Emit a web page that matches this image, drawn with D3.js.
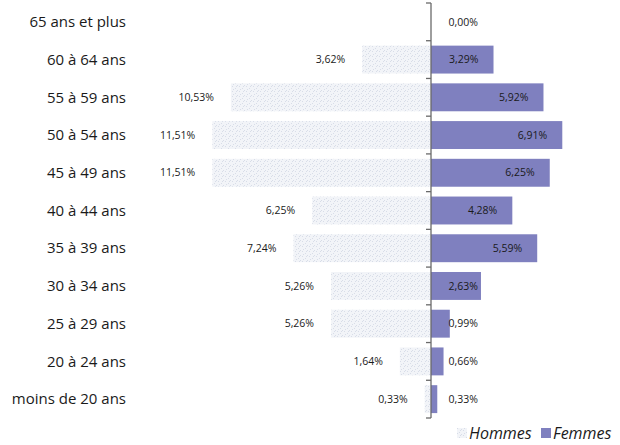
<!DOCTYPE html>
<html>
<head>
<meta charset="utf-8">
<script src="https://cdn.jsdelivr.net/npm/d3@7"></script>
<style>
  body { margin: 0; background: #fff; }
  svg { display: block; font-family: "Open Sans", sans-serif; }
</style>
</head>
<body>
<div id="chart"></div>
<script>
// tranches d'âge, du haut vers le bas
const categories = ["65 ans et plus", "60 à 64 ans", "55 à 59 ans", "50 à 54 ans", "45 à 49 ans",
    "40 à 44 ans", "35 à 39 ans", "30 à 34 ans", "25 à 29 ans", "20 à 24 ans", "moins de 20 ans"];
const hommes = [0, 3.62, 10.53, 11.51, 11.51, 6.25, 7.24, 5.26, 5.26, 1.64, 0.33];
const femmes = [0, 3.29, 5.92, 6.91, 6.25, 4.28, 5.59, 2.63, 0.99, 0.66, 0.33];
const seriesNames = ["Hommes", "Femmes"];

const width = 620, height = 445;
const fmt = v => v.toFixed(2).replace(".", ",") + "%";

const svg = d3.select("#chart").append("svg")
    .attr("width", width)
    .attr("height", height);

// texture claire pour les hommes
const defs = svg.append("defs");
const pat = defs.append("pattern")
    .attr("id", "stipple")
    .attr("patternUnits", "userSpaceOnUse")
    .attr("width", 7).attr("height", 5);
pat.append("rect").attr("width", 7).attr("height", 5).attr("fill", "#f2f4f8");
[[1, 1], [4, 3], [6, 0], [2, 4], [5, 1]].forEach(p => {
    pat.append("rect").attr("x", p[0]).attr("y", p[1])
        .attr("width", 1).attr("height", 1).attr("fill", "#d8dde8");
});

const x0 = 431;          // position de l'axe central
const pxPerPct = 19;

const xR = d3.scaleLinear().domain([0, 10]).range([x0, x0 + 10 * pxPerPct]);
const xL = d3.scaleLinear().domain([0, 10]).range([x0, x0 - 10 * pxPerPct]);

const y = d3.scaleBand()
    .domain(categories)
    .range([3, 418])
    .paddingInner(0.26)
    .paddingOuter(0.13);

const femColor = "#7f80bf";

// barres hommes
svg.selectAll("rect.hommes")
    .data(categories)
    .enter()
    .append("rect")
    .attr("class", "hommes")
    .attr("x", (d, i) => xL(hommes[i]))
    .attr("y", d => y(d))
    .attr("width", (d, i) => x0 - xL(hommes[i]))
    .attr("height", y.bandwidth())
    .attr("fill", "url(#stipple)");

// barres femmes
svg.selectAll("rect.femmes")
    .data(categories)
    .enter()
    .append("rect")
    .attr("class", "femmes")
    .attr("x", x0)
    .attr("y", d => y(d))
    .attr("width", (d, i) => xR(femmes[i]) - x0)
    .attr("height", y.bandwidth())
    .attr("fill", femColor);

// axe vertical + graduations aux limites des bandes
const step = y.step();
const bounds = categories.map(d => y(d) - step * y.paddingInner() / 2);
bounds.push(y(categories[categories.length - 1]) + y.bandwidth() + step * y.paddingInner() / 2);

svg.append("line")
    .attr("x1", x0).attr("x2", x0)
    .attr("y1", bounds[0]).attr("y2", bounds[bounds.length - 1])
    .attr("stroke", "#6a6a6a").attr("stroke-width", 1.3);

svg.selectAll("line.tick")
    .data(bounds)
    .enter()
    .append("line")
    .attr("class", "tick")
    .attr("x1", x0 - 5).attr("x2", x0)
    .attr("y1", d => d).attr("y2", d => d)
    .attr("stroke", "#6a6a6a").attr("stroke-width", 1.3);

// libellés des catégories
svg.selectAll("text.cat")
    .data(categories)
    .enter()
    .append("text")
    .attr("class", "cat")
    .attr("x", 126)
    .attr("y", d => y(d) + y.bandwidth() / 2)
    .attr("dy", "0.35em")
    .attr("text-anchor", "end")
    .attr("font-size", "15px")
    .attr("fill", "#1a1a1a")
    .text(d => d);

// étiquettes hommes
svg.selectAll("text.lh")
    .data(categories)
    .enter()
    .append("text")
    .attr("class", "lh")
    .attr("x", (d, i) => xL(hommes[i]) - 17)
    .attr("y", d => y(d) + y.bandwidth() / 2)
    .attr("dy", "0.35em")
    .attr("text-anchor", "end")
    .attr("font-size", "10.5px")
    .attr("fill", "#1a1a1a")
    .text((d, i) => hommes[i] > 0 ? fmt(hommes[i]) : "");

// étiquettes femmes
svg.selectAll("text.lf")
    .data(categories)
    .enter()
    .append("text")
    .attr("class", "lf")
    .attr("x", (d, i) => Math.max(xR(femmes[i]) - 15, x0 + 47))
    .attr("y", d => y(d) + y.bandwidth() / 2)
    .attr("dy", "0.35em")
    .attr("text-anchor", "end")
    .attr("font-size", "10.5px")
    .attr("fill", "#1a1a1a")
    .text((d, i) => fmt(femmes[i]));

// légende
const legend = svg.append("g").attr("transform", "translate(0,439)");
const legX = [457, 541];
const legFill = ["url(#stipple)", femColor];
seriesNames.forEach((name, i) => {
    legend.append("rect")
        .attr("x", legX[i]).attr("y", -11)
        .attr("width", 10).attr("height", 10)
        .attr("fill", legFill[i]);
    legend.append("text")
        .attr("x", legX[i] + 12)
        .attr("y", 0)
        .attr("font-size", "16px")
        .attr("font-style", "italic")
        .attr("fill", "#1a1a1a")
        .text(name);
});
</script>
</body>
</html>
